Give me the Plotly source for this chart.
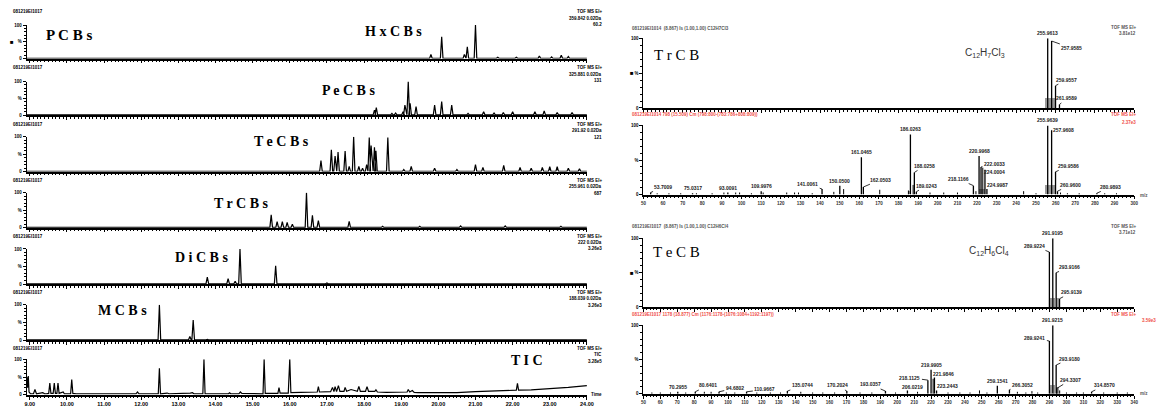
import plotly.graph_objects as go

W, H = 1157, 409

# ======================= DATA: left chromatograms =======================
row_labels = ["PCBs", "HxCBs", "PeCBs", "TeCBs", "TrCBs", "DiCBs", "MCBs", "TIC"]
row_mass = ["359.842 0.02Da", "325.881 0.02Da", "291.92 0.02Da", "255.961 0.02Da",
            "222 0.02Da", "188.039 0.02Da", "TIC"]
row_scale = ["60.2", "131", "121", "687", "3.26e3", "3.26e3", "3.28e5"]
sample_id = "081219EI1017"
time_ticks = [9, 10, 11, 12, 13, 14, 15, 16, 17, 18, 19, 20, 21, 22, 23, 24]

hx_t = [18.9, 19.3, 19.80, 20.09, 20.70, 20.78, 21.00, 21.6, 22.1, 22.72, 23.05, 23.31, 23.5]
hx_h = [3, 3, 12, 65, 12, 35, 100, 4, 4, 8, 5, 10, 6]

pe_t = [18.28, 18.33, 18.75, 18.85, 19.05, 19.10, 19.19, 19.24, 19.40, 19.90, 20.09, 20.36,
        20.8, 21.22, 21.5, 21.75, 22.0, 22.6, 22.85, 23.2, 23.6]
pe_h = [15, 22, 5, 6, 10, 30, 100, 35, 25, 30, 40, 30, 5, 10, 6, 8, 10, 10, 12, 8, 8]

te_t = [16.84, 17.12, 17.22, 17.30, 17.49, 17.60, 17.72, 17.86, 17.96, 18.07, 18.14, 18.19,
        18.28, 18.32, 18.64, 19.07, 19.27, 19.9, 20.5, 21.0, 21.2, 21.76, 22.2, 22.5, 22.8,
        23.0, 23.2, 23.5, 23.8]
te_h = [32, 63, 45, 56, 59, 15, 100, 15, 10, 20, 98, 75, 70, 60, 98, 6, 15, 10, 6, 20, 12,
        18, 12, 10, 12, 14, 14, 10, 8]

tr_t = [15.50, 15.66, 15.80, 15.93, 16.07, 16.45, 16.61, 16.77, 17.60, 18.5, 19.5, 20.6,
        21.8, 23.3]
tr_h = [37, 17, 17, 15, 10, 100, 35, 20, 18, 4, 4, 5, 5, 4]

di_t = [13.78, 14.34, 14.53, 14.66, 15.62, 17.0]
di_h = [20, 15, 8, 100, 52, 3]

mc_t = [12.49, 13.31, 13.40, 13.78]
mc_h = [100, 10, 57, 2]

tic_t = [8.92, 8.94, 8.96, 8.98, 9.02, 9.10, 9.14, 9.18, 9.35, 9.40, 9.45, 9.51, 9.54, 9.57,
         9.63, 9.66, 9.69, 9.73, 9.76, 9.79, 9.90, 9.93, 9.96, 10.10, 10.13, 10.16, 10.25,
         11.15, 11.2, 11.25, 11.52, 11.56, 11.6, 11.86, 11.9, 11.94, 12.46, 12.49, 12.52,
         12.7, 12.75, 13.28, 13.32, 13.38, 13.42, 13.66, 13.69, 13.72, 14.35, 14.38, 14.41,
         14.63, 14.67, 14.71, 15.28, 15.31, 15.34, 15.68, 15.71, 15.74, 15.96, 16.0, 16.03,
         16.3, 16.5, 16.74, 16.77, 16.8, 17.1, 17.15, 17.19, 17.22, 17.26, 17.31, 17.35,
         17.46, 17.49, 17.53, 17.65, 17.75, 17.82, 17.86, 17.9, 18.04, 18.08, 18.12, 18.29,
         18.32, 18.36, 18.6, 19.0, 19.16, 19.19, 19.23, 19.3, 19.35, 19.45, 20.0, 20.5,
         21.0, 21.5, 22.0, 22.1, 22.13, 22.16, 22.5, 23.0, 23.5, 24.0]
tic_y = [50, 20, 53, 8, 3, 3, 15, 3, 6, 3, 3, 4, 33, 4, 4, 33, 4, 4, 33, 4, 8, 3, 3, 3, 43, 4,
         3, 3, 5, 3, 3, 5, 3, 3, 8, 3, 3, 75, 3, 5, 3, 3, 5, 6, 3, 3, 100, 3, 3, 6, 3, 3, 8, 4,
         3, 100, 4, 4, 20, 5, 5, 100, 6, 7, 8, 8, 23, 8, 9, 21, 9, 23, 9, 26, 10, 10, 21, 10,
         15, 12, 10, 24, 10, 10, 23, 10, 10, 14, 8, 7, 7, 8, 15, 8, 12, 7, 6, 6, 6, 9, 10, 12,
         13, 32, 13, 14, 17, 21, 26]

# ======================= DATA: right spectra =======================
trcb_model_mz = [255.9613, 257.9585, 259.9557, 261.9589]
trcb_model_int = [100, 96, 32, 5]
trcb_model_lbl = ["255.9613", "257.9585", "259.9557", "261.9589"]
trcb_model_grey_mz = [255.3, 256.9, 257.3, 258.9, 259.3]
trcb_model_grey_int = [14, 14, 14, 14, 14]

trcb_meas_mz = [53.7009, 75.0317, 93.0091, 109.9976, 141.0061, 150.0500, 161.0465, 162.0503,
                186.0263, 188.0258, 189.0243, 218.1166, 220.9968, 222.0033, 224.0004, 224.9987,
                255.9639, 257.9608, 259.9586, 260.9600, 280.9893]
trcb_meas_int = [3, 2, 3, 5, 8, 13, 54, 11, 87, 32, 4, 13, 56, 40, 36, 8, 100, 93, 33, 5, 2]
trcb_meas_lbl = ["53.7009", "75.0317", "93.0091", "109.9976", "141.0061", "150.0500",
                 "161.0465", "162.0503", "186.0263", "188.0258", "189.0243", "218.1166",
                 "220.9968", "222.0033", "224.0004", "224.9987", "255.9639", "257.9608",
                 "259.9586", "260.9600", "280.9893"]
trcb_extra_mz = [57, 63, 69, 77, 85, 91, 97, 99, 105, 111, 123, 127, 129, 136, 147, 152, 170.4,
                 185.0, 187.4, 196, 203, 210, 219.4, 222.9, 243.7, 250, 262.5, 266, 272, 285, 291]
trcb_extra_int = [2, 2, 2, 2, 2, 3, 3, 3, 2, 3, 3, 3, 3, 2, 4, 8, 7, 6, 14, 3, 3, 3, 5, 39, 5,
                  2, 3, 2, 2, 2, 2]
trcb_meas_grey_mz = [185.5, 221.9, 223.4, 255.3, 256.9, 257.3, 258.9, 259.3]
trcb_meas_grey_int = [5, 8, 8, 13, 13, 13, 13, 13]

tecb_model_mz = [289.9224, 291.9195, 293.9166, 295.9139]
tecb_model_int = [80, 100, 50, 12]
tecb_model_lbl = ["289.9224", "291.9195", "293.9166", "295.9139"]
tecb_model_grey_mz = [290.9, 292.9, 294.9]
tecb_model_grey_int = [12, 12, 12]

tecb_meas_mz = [70.2955, 80.6401, 94.6802, 110.9667, 135.0744, 170.2024, 193.0357, 206.0219,
                218.1125, 219.9905, 221.9846, 223.2443, 259.1541, 266.3052, 289.9241,
                291.9215, 293.9180, 294.3307, 314.8570]
tecb_meas_int = [3, 3, 3, 3, 4, 4, 4, 5, 20, 35, 24, 5, 12, 6, 77, 100, 42, 8, 3]
tecb_meas_lbl = ["70.2955", "80.6401", "94.6802", "110.9667", "135.0744", "170.2024",
                 "193.0357", "206.0219", "218.1125", "219.9905", "221.9846", "223.2443",
                 "259.1541", "266.3052", "289.9241", "291.9215", "293.9180", "294.3307",
                 "314.8570"]
tecb_extra_mz = [55, 60, 66, 75, 86, 90, 99, 104, 117, 125, 131, 143, 150, 156, 163, 178, 185,
                 199, 212, 221.2, 230, 237, 243, 248.6, 253, 271, 276, 279.6, 283, 296, 300,
                 306, 310, 322, 330, 336]
tecb_extra_int = [2, 2, 2, 2, 3, 3, 2, 2, 2, 2, 2, 3, 2, 2, 2, 2, 2, 2, 3, 22, 2, 2, 2, 5, 2,
                  3, 2, 4, 2, 5, 2, 2, 2, 2, 2, 2]
tecb_meas_grey_mz = [290.9, 292.9, 294.9]
tecb_meas_grey_int = [12, 12, 10]

# ======================= LAYOUT HELPERS =======================
def fx(p):
    return p / W


def fy(p):
    return 1 - p / H


layout = dict(width=W, height=H, margin=dict(l=0, r=0, t=0, b=0),
              paper_bgcolor="white", plot_bgcolor="white", showlegend=False,
              annotations=[], bargap=0)
traces = []
axis_count = [0]
SANS = "Liberation Sans"
SERIF = "Liberation Serif"


def add_axes(x0, x1, ytop, ybot, xr, xopt, yopt):
    axis_count[0] += 1
    k = axis_count[0]
    s = "" if k == 1 else str(k)
    layout["xaxis" + s] = dict(domain=[fx(x0), fx(x1)], range=xr, anchor="y" + s, **xopt)
    layout["yaxis" + s] = dict(domain=[fy(ybot), fy(ytop)], range=[0, 100], anchor="x" + s, **yopt)
    return "x" + s, "y" + s


def note(text, x, y, size=5, color="black", xanchor="center", family=SANS, weight="normal"):
    layout["annotations"].append(dict(
        text=text, x=fx(x), y=fy(y), xref="paper", yref="paper", showarrow=False,
        xanchor=xanchor, yanchor="middle",
        font=dict(size=size, color=color, family=family, weight=weight)))


yopt_common = dict(showline=True, linecolor="black", linewidth=1.2, ticks="outside",
                   tickcolor="black", ticklen=3, tickwidth=1, showgrid=False, zeroline=False,
                   tickvals=[0, 50, 100], ticktext=["0", "%", "100"],
                   tickfont=dict(size=4.5, family=SANS, color="black", weight="bold"),
                   minor=dict(ticks="outside", dtick=10, ticklen=2, tickcolor="black",
                              showgrid=False),
                   fixedrange=True)

# ======================= LEFT PANEL =======================
row_zero = [57.3, 114.5, 171.7, 228.5, 285.5, 342.3, 397.7]
row_full = [23.3, 80.5, 136.5, 193.0, 250.0, 306.5, 361.7]
header_y = [10, 66.5, 124, 180.5, 237, 294, 350.5]
peak_sets = [(hx_t, hx_h), (pe_t, pe_h), (te_t, te_h), (tr_t, tr_h), (di_t, di_h), (mc_t, mc_h)]
name_pos = [(394, 29.5), (349, 89.5), (281, 141), (240, 204), (200, 259), (121, 312), (529, 363)]

for i in range(7):
    xopt = dict(showline=True, linecolor="black", linewidth=1.5, ticks="outside",
                tickcolor="black", ticklen=3, tickwidth=1, showgrid=False, zeroline=False,
                tickvals=time_ticks, ticktext=["%.2f" % v for v in time_ticks],
                showticklabels=(i == 6),
                tickfont=dict(size=5.5, family=SANS, color="black", weight="bold"),
                minor=dict(ticks="outside", dtick=0.1, tick0=9, ticklen=1.8, tickcolor="black",
                           showgrid=False),
                fixedrange=True)
    xa, ya = add_axes(24, 589, row_full[i], row_zero[i], [8.92, 24.0], xopt, yopt_common)
    if i < 6:
        ts, hs = peak_sets[i]
        xs, ys = [8.92], [0.8]
        for t, h in sorted(zip(ts, hs)):
            xs += [t - 0.035, t, t + 0.035]
            ys += [0.8, h, 0.8]
        xs.append(24.0)
        ys.append(0.8)
    else:
        xs, ys = tic_t, tic_y
    traces.append(go.Scatter(x=xs, y=ys, xaxis=xa, yaxis=ya, mode="lines",
                             line=dict(color="black", width=1.2), hoverinfo="skip"))
    note(sample_id, 8, header_y[i], size=4.5, xanchor="left", weight="bold")
    note("TOF MS EI+", 606, header_y[i], size=4.5, xanchor="right", weight="bold")
    note(row_mass[i], 606, header_y[i] + 6.5, size=4.5, xanchor="right", weight="bold")
    note(row_scale[i], 606, header_y[i] + 13, size=4.5, xanchor="right", weight="bold")
    nm = row_labels[i + 1]
    note(" ".join(nm), name_pos[i][0], name_pos[i][1], size=14, family=SERIF,
         weight="bold")

note(" ".join(row_labels[0]), 67, 33.5, size=15, family=SERIF, weight="bold")
note("\u25A0", 9, 41, size=6)
note("Time", 591, 397.5, size=4.5, xanchor="left", weight="bold")

# ======================= RIGHT PANEL =======================
def stick(mz, inten):
    xs, ys = [], []
    for m, v in zip(mz, inten):
        xs += [m, m, None]
        ys += [0, v, None]
    return xs, ys


def right_xopt(labels, xmax):
    ticks = list(range(50, xmax + 1, 10))
    return dict(showline=True, linecolor="black", linewidth=1.5, ticks="outside",
                tickcolor="black", ticklen=3, tickwidth=1, showgrid=False, zeroline=False,
                tickvals=ticks, ticktext=[str(t) for t in ticks], showticklabels=labels,
                tickfont=dict(size=4.5, family=SANS, color="#333333", weight="bold"),
                minor=dict(ticks="outside", dtick=2, tick0=50, ticklen=1.8, tickcolor="black",
                           showgrid=False),
                fixedrange=True)


RX0, RX1 = 646, 1141
panels = [
    dict(top=36.7, bot=107.3, xmax=300, labels=False,
         mz=trcb_model_mz, it=trcb_model_int, lb=trcb_model_lbl,
         gmz=trcb_model_grey_mz, git=trcb_model_grey_int, emz=[], eit=[],
         lpos=[(1050, 33), (1078, 46.7), (1073, 78.7), (1073, 97.7)]),
    dict(top=125, bot=195, xmax=300, labels=True,
         mz=trcb_meas_mz, it=trcb_meas_int, lb=trcb_meas_lbl,
         gmz=trcb_meas_grey_mz, git=trcb_meas_grey_int, emz=trcb_extra_mz, eit=trcb_extra_int,
         lpos=[(665.5, 187.3), (696, 187.3), (731.7, 187.3), (765, 187.3), (812, 184),
               (844, 181.7), (864.5, 153.3), (885, 180), (916, 130.7), (929.3, 166),
               (931, 186), (964, 179.3), (984, 153.3), (1000, 164), (1000, 172),
               (1002.7, 185.3), (1053.3, 122.3), (1070, 130), (1075, 166), (1077, 185.3),
               (1117.3, 187.3)]),
    dict(top=239.3, bot=308.7, xmax=340, labels=False,
         mz=tecb_model_mz, it=tecb_model_int, lb=tecb_model_lbl,
         gmz=tecb_model_grey_mz, git=tecb_model_grey_int, emz=[], eit=[],
         lpos=[(1041, 247), (1058.3, 235), (1076, 268.3), (1078, 294)]),
    dict(top=327.3, bot=396.7, xmax=340, labels=True,
         mz=tecb_meas_mz, it=tecb_meas_int, lb=tecb_meas_lbl,
         gmz=tecb_meas_grey_mz, git=tecb_meas_grey_int, emz=tecb_extra_mz, eit=tecb_extra_int,
         lpos=[(680, 390.7), (710.7, 388.3), (738, 391), (768.3, 392.3), (806, 388.3),
               (841.7, 388.3), (875, 387.3), (917.3, 390.3), (915, 380.3), (936, 369.3),
               (948.3, 377), (952.7, 388.7), (1001.7, 385), (1028.3, 387.7), (1041, 340.3),
               (1058.3, 323.3), (1076, 361), (1076.7, 382.7), (1111, 388.3)]),
]

for p in panels:
    yopt = dict(yopt_common)
    xa, ya = add_axes(RX0, RX1, p["top"], p["bot"], [50, p["xmax"]],
                      right_xopt(p["labels"], p["xmax"]), yopt)
    traces.append(go.Bar(x=p["gmz"], y=p["git"], width=1.4, xaxis=xa, yaxis=ya,
                         marker=dict(color="#9a9a9a", line=dict(width=0)), hoverinfo="skip"))
    if p["emz"]:
        ex, ey = stick(p["emz"], p["eit"])
        traces.append(go.Scatter(x=ex, y=ey, xaxis=xa, yaxis=ya, mode="lines",
                                 line=dict(color="black", width=1), hoverinfo="skip"))
    sx, sy = stick(p["mz"], p["it"])
    traces.append(go.Scatter(x=sx, y=sy, xaxis=xa, yaxis=ya, mode="lines",
                             line=dict(color="black", width=1.3), hoverinfo="skip"))
    xscale = (RX1 - RX0) / (p["xmax"] - 50)
    yscale = (p["bot"] - p["top"]) / 100
    for m, v, lbl, (lx, ly) in zip(p["mz"], p["it"], p["lb"], p["lpos"]):
        bx = RX0 + (m - 50) * xscale
        by = p["bot"] - v * yscale
        dx, dy = lx - bx, ly - by
        if abs(dx) < 4 and dy < 0:
            layout["annotations"].append(dict(
                text=lbl, x=m, y=v, xref=xa, yref=ya, showarrow=False, yanchor="bottom",
                yshift=0, font=dict(size=5, family=SANS, color="#222222", weight="bold")))
        else:
            layout["annotations"].append(dict(
                text=lbl, x=m, y=v, xref=xa, yref=ya, showarrow=True, arrowhead=0,
                arrowwidth=0.8, arrowcolor="black", ax=dx, ay=dy, standoff=0,
                font=dict(size=5, family=SANS, color="#222222", weight="bold")))

# right panel texts
GREY = "#555555"
RED = "#f0504a"
note("081219EI1014  (8.867) Is (1.00,1.00) C12H7Cl3", 632, 27, size=4.5, color=GREY,
     xanchor="left", weight="bold")
note("081219EI1014 798 (15.509) Cm (798:800-(783:786+808:809))", 632, 114.3, size=4.5,
     color=RED, xanchor="left", weight="bold")
note("081219EI1017  (8.867) Is (1.00,1.00) C12H6Cl4", 632, 227.3, size=4.5, color=GREY,
     xanchor="left", weight="bold")
note("081219EI1017 1178 (18.877) Cm (1176:1178-(1076:1084+1192:1197))", 632, 316,
     size=4.5, color=RED, xanchor="left", weight="bold")

note("TOF MS EI+", 1145, 25.7, size=4.5, color=GREY, xanchor="right", weight="bold")
note("3.81e12", 1145, 31.7, size=4.5, color=GREY, xanchor="right", weight="bold")
note("TOF MS EI+", 1145, 114.3, size=4.5, color=RED, xanchor="right", weight="bold")
note("2.37e3", 1145, 121.7, size=4.5, color=RED, xanchor="right", weight="bold")
note("TOF MS EI+", 1145, 227.3, size=4.5, color=GREY, xanchor="right", weight="bold")
note("3.71e12", 1145, 233.3, size=4.5, color=GREY, xanchor="right", weight="bold")
note("TOF MS EI+", 1145, 316.7, size=4.5, color=RED, xanchor="right", weight="bold")
note("3.59e3", 1147, 322.5, size=4.5, color=RED, xanchor="left", weight="bold")

note("m/z", 1145, 195.5, size=4.5, color=GREY, xanchor="left", weight="bold")
note("m/z", 1145, 396.5, size=4.5, color=GREY, xanchor="left", weight="bold")

note(" ".join("TrCB"), 679, 54, size=15, family=SERIF)
note(" ".join("TeCB"), 679, 253.3, size=15, family=SERIF)
note("C<sub>12</sub>H<sub>7</sub>Cl<sub>3</sub>", 991, 52, size=10, color="#333333")
note("C<sub>12</sub>H<sub>6</sub>Cl<sub>4</sub>", 995, 252.3, size=10, color="#333333")
note("\u25A0", 634, 71.5, size=6)
note("\u25A0", 634, 274, size=6)

fig = go.Figure(data=traces)
fig.update_layout(**layout)
fig.write_html("out.html", config={"displayModeBar": False},
               post_script="document.body.style.margin='0px';document.body.style.padding='0px';")
